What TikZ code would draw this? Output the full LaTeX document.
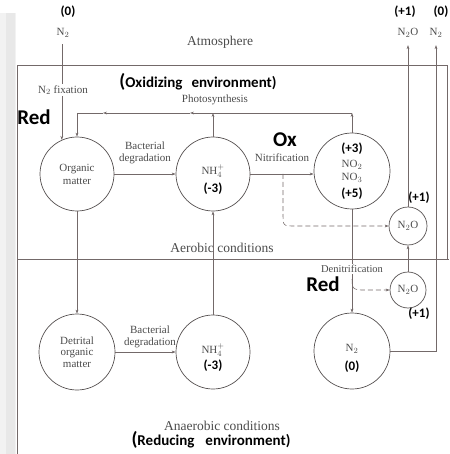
\documentclass[tikz,border=0pt]{standalone}
\usepackage{fontspec}
\setmainfont{Liberation Serif}
\newfontfamily\calfont{Carlito}
\usetikzlibrary{arrows.meta}
\definecolor{linec}{RGB}{115,105,105}
\definecolor{circc}{RGB}{85,80,80}
\definecolor{txtc}{RGB}{75,75,75}
\begin{document}
\begin{tikzpicture}[x=1pt,y=-1pt,
 arr/.style={-{Stealth[length=4pt,width=2.8pt]}},
 ln/.style={draw=linec, line width=0.55pt},
 circ/.style={circle, draw=circc, line width=0.7pt, inner sep=0pt, text=txtc, font=\fontsize{11}{12}\selectfont},
 lab/.style={font=\fontsize{11}{12}\selectfont, text=txtc, inner sep=0.5pt, align=center},
 head/.style={font=\fontsize{13.5}{15}\selectfont, text=txtc, inner sep=0pt},
 oxs/.style={font=\calfont\bfseries\fontsize{13}{14}\selectfont, inner sep=0pt},
 big/.style={font=\calfont\bfseries\fontsize{21}{22}\selectfont, inner sep=0pt},
 env/.style={font=\calfont\bfseries\fontsize{15}{16}\selectfont, inner sep=0pt},
]
\useasboundingbox (0,0) rectangle (449,454);
% scan edge
\fill[black!5] (0,13) rectangle (16,454);
\fill[black!9] (6,13) rectangle (15,454);
% frame
\draw[ln, line width=0.8pt] (17,454) -- (17,65) -- (447,65) -- (447,259);
\draw[ln, line width=0.8pt] (17,259) -- (449,259);

% circles
\node[circ, minimum size=74pt] (om) at (77,174) {};
\node[circ, minimum size=74pt] (nh4u) at (213,174) {};
\node[circ, minimum size=76pt] (no) at (352,171) {};
\node[circ, minimum size=38pt] (n2ou) at (408,226) {N$_2$O};
\node[circ, minimum size=36pt] (n2ol) at (408,290) {N$_2$O};
\node[circ, minimum size=76pt] (dom) at (77,352) {};
\node[circ, minimum size=74pt] (nh4l) at (213,352) {};
\node[circ, minimum size=76pt] (n2l) at (352,351) {};

% texts in circles
\node[lab, font=\fontsize{11}{13}\selectfont] (omt) at (77,174.5) {Organic\\matter};
\node[lab, font=\fontsize{11}{11.5}\selectfont] (domt) at (77,352) {Detrital\\organic\\matter};
\node[lab] (nh4ut) at (213,171) {NH$_4^+$};
\node[oxs] (nh4uo) at (213,189) {(-3)};
\node[lab] (nh4lt) at (213,350) {NH$_4^+$};
\node[oxs] (nh4lo) at (213,366) {(-3)};
\node[oxs] (no3o) at (352,149) {(+3)};
\node[lab] (no2t) at (352,165) {NO$_2$};
\node[lab] (no3t) at (352,178) {NO$_3$};
\node[oxs] (no5o) at (352,194) {(+5)};
\node[lab] (n2lt) at (352,349) {N$_2$};
\node[oxs] (n2lo) at (352,367) {(0)};
\node[oxs] (n2ouo) at (419,198) {(+1)};
\node[oxs] (n2olo) at (419,314) {(+1)};

% atmosphere
\node[oxs] (a0) at (68,12) {(0)};
\node[lab] (n2a) at (63,33) {N$_2$};
\node[head] (atm) at (220,42) {Atmosphere};
\node[oxs] (a1) at (405,12) {(+1)};
\node[lab] (n2oa) at (408,33) {N$_2$O};
\node[oxs] (a2) at (441,12) {(0)};
\node[lab] (n2b) at (436,33) {N$_2$};

% headings / annotations
\node[env] (envox) at (198,82) {{\fontsize{19}{19}\selectfont(}Oxidizing\hspace{9pt}environment)};
\node[env] (envred) at (211,440) {{\fontsize{19}{19}\selectfont(}Reducing\hspace{11pt}environment)};
\node[head] (aer) at (222,248) {Aerobic conditions};
\node[head] (anaer) at (222,426) {Anaerobic conditions};
\node[big] (red1) at (34,117) {Red};
\node[big] (ox) at (285,140) {Ox};
\node[big] (red2) at (323,284) {Red};
\node[lab] (phot) at (215,100) {Photosynthesis};
\node[lab, align=center, font=\fontsize{11}{12}\selectfont] (bd1) at (145,153) {Bacterial\\degradation};
\node[lab, align=center, font=\fontsize{11}{12}\selectfont] (bd2) at (150,337) {Bacterial\\degradation};
\node[lab] (nitr) at (282,158) {Nitrification};

% N2 fixation
\draw[ln,arr] ([yshift=-6pt]n2a.south -| om.114) -- (om.114);
\node[lab, fill=white, inner sep=1.5pt] (fix) at (63,90) {N$_2$ fixation};

% photosynthesis
\coordinate (pL) at (77,113);
\coordinate (pm1) at (190,113);
\coordinate (pm2) at (103,113);
\draw[ln,arr] (nh4u.north) -- (nh4u.north |- pL);
\draw[ln,arr] (no.north) -- (no.north |- pL);
\draw[ln,arr] (no.north |- pL) -- (pm1);
\draw[ln,arr] (pm1) -- (pm2);
\draw[ln] (pm2) -- (pL);
\draw[ln,arr] (pL) -- (om.north);

% degradation
\draw[ln,arr] (om.east) -- (nh4u.west);
\draw[ln,arr] (dom.east) -- (nh4l.west);
\draw[ln,arr] (om.south) -- (dom.north);
\draw[ln,arr] (nh4l.north) -- (nh4u.south);

% nitrification
\draw[ln,arr] (nh4u.east) -- (nh4u.east -| no.west);
\coordinate (d1) at (283,174);
\draw[ln,arr,dash pattern=on 5pt off 3pt] (d1) -- ++(0,40) .. controls +(0,12) and +(-12,0) .. ++(12,12) -- (n2ou.west);

% denitrification
\draw[ln,arr] (no.south) -- (n2l.north);
\node[lab, fill=white, inner sep=1.5pt, font=\fontsize{10.5}{12}\selectfont] (den) at (352,269) {Denitrification};
\coordinate (d2) at (352,279);
\draw[ln,arr,dash pattern=on 5pt off 3pt] (d2) .. controls +(0,11) and +(-10,0) .. ++(12,11) -- (n2ol.west);

% N2O and N2 to atmosphere
\draw[ln,arr] (n2ol.north) -- (n2ou.south);
\draw[ln,arr] (n2ou.north) -- ([yshift=-7pt]n2oa.south);
\draw[ln,arr] (n2l.east) -| ([yshift=-7pt]n2b.south);
\end{tikzpicture}
\end{document}
